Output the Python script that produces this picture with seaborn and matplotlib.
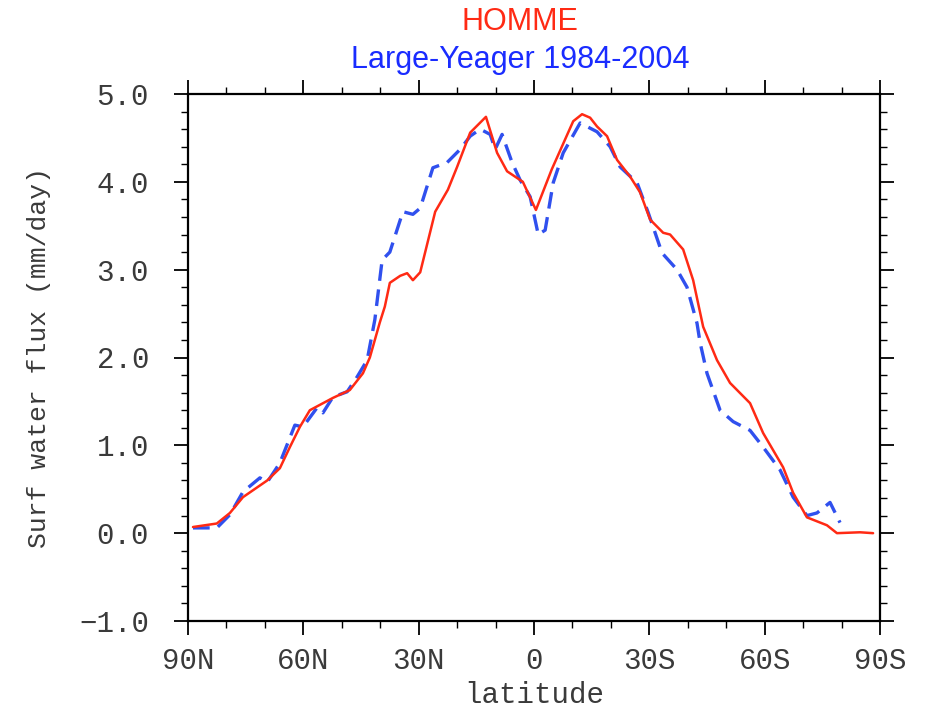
import matplotlib
matplotlib.use("Agg")
import matplotlib.pyplot as plt
from matplotlib.ticker import MultipleLocator
import seaborn as sns
import pandas as pd

# HOMME (red solid): latitude (+N / -S), surface water flux mm/day
homme_lat = [88.7, 82.5, 79.1, 75.7, 69.4, 66.1, 63.5, 60.9, 58.3, 52.3, 47.9, 44.5,
             42.7, 40.1, 38.8, 37.5, 34.8, 33.0, 31.5, 29.6, 25.7, 22.4, 20.0, 16.6,
             12.5, 9.6, 7.0, 2.9, -0.5, -4.6, -10.2, -12.5, -14.6, -16.4, -19.0, -21.6,
             -25.0, -27.6, -30.2, -33.6, -35.4, -38.8, -41.4, -44.0, -47.6, -51.0, -56.2,
             -59.6, -64.8, -67.4, -71.0, -76.2, -78.8, -84.8, -88.2]
homme_val = [0.07, 0.11, 0.23, 0.41, 0.60, 0.74, 0.98, 1.21, 1.40, 1.54, 1.63, 1.82,
             2.00, 2.40, 2.58, 2.85, 2.93, 2.96, 2.88, 2.97, 3.66, 3.91, 4.17, 4.56,
             4.74, 4.33, 4.12, 4.00, 3.68, 4.14, 4.69, 4.77, 4.73, 4.63, 4.52, 4.25,
             4.06, 3.88, 3.57, 3.42, 3.40, 3.23, 2.88, 2.35, 1.97, 1.71, 1.48,
             1.14, 0.75, 0.46, 0.18, 0.09, 0.00, 0.01, 0.00]

# Large-Yeager 1984-2004 (blue dashed)
ly_lat = [88.7, 82.5, 79.1, 75.7, 71.3, 69.4, 66.1, 62.2, 60.1, 56.4, 54.9, 52.3,
          48.6, 46.0, 43.4, 41.4, 39.5, 37.5, 34.1, 31.5, 29.6, 26.3, 22.6, 19.2,
          16.6, 14.0, 11.4, 10.1, 8.3, 5.7, 3.6, 1.0, -1.1, -2.9, -5.0, -7.6, -12.0,
          -16.4, -19.8, -22.4, -26.8, -29.7, -33.3, -37.2, -39.8, -42.4, -43.2, -45.0,
          -48.4, -51.8, -56.2, -59.6, -64.0, -67.4, -71.0, -73.6, -77.0, -79.6]
ly_val = [0.06, 0.06, 0.21, 0.47, 0.63, 0.58, 0.80, 1.23, 1.21, 1.43, 1.37, 1.55,
          1.61, 1.78, 1.97, 2.43, 3.11, 3.20, 3.66, 3.63, 3.70, 4.16, 4.22, 4.37,
          4.52, 4.60, 4.54, 4.37, 4.54, 4.22, 4.02, 3.83, 3.40, 3.45, 3.99, 4.33, 4.67,
          4.57, 4.40, 4.17, 3.99, 3.65, 3.19, 3.00, 2.80, 2.39, 2.17, 1.82,
          1.40, 1.27, 1.17, 0.98, 0.72, 0.41, 0.20, 0.23, 0.35, 0.12]

xtick_pos = [90, 60, 30, 0, -30, -60, -90]
xtick_lab = ["90N", "60N", "30N", "0", "30S", "60S", "90S"]
ytick_pos = [-1.0, 0.0, 1.0, 2.0, 3.0, 4.0, 5.0]
ytick_lab = ["\u22121.0", "0.0", "1.0", "2.0", "3.0", "4.0", "5.0"]

sns.set_style("ticks")
plt.rcParams["font.family"] = ["Liberation Mono", "DejaVu Sans Mono"]

fig = plt.figure(figsize=(9.28, 7.10), dpi=100)
ax = fig.add_axes([188 / 928, 1 - 621 / 710, (880 - 188) / 928, (621 - 94) / 710])

df_h = pd.DataFrame({"lat": homme_lat, "val": homme_val})
df_l = pd.DataFrame({"lat": ly_lat, "val": ly_val})

sns.lineplot(data=df_l, x="lat", y="val", ax=ax, color="#3050ee", lw=2.4,
             linestyle=(0, (5, 2.6)), sort=False, estimator=None)
sns.lineplot(data=df_h, x="lat", y="val", ax=ax, color="#ff2a14", lw=1.8,
             sort=False, estimator=None)

ax.set_xlim(90, -90)
ax.set_ylim(-1.0, 5.0)
ax.set_xticks(xtick_pos)
ax.set_xticklabels(xtick_lab)
ax.set_yticks(ytick_pos)
ax.set_yticklabels(ytick_lab)
ax.xaxis.set_minor_locator(MultipleLocator(10))
ax.yaxis.set_minor_locator(MultipleLocator(0.2))

ax.tick_params(which="both", direction="out", top=True, right=True,
               labeltop=False, labelright=False, colors="black")
ax.tick_params(which="major", length=10, width=1.3)
ax.tick_params(which="minor", length=5, width=1.0)
ax.tick_params(axis="x", which="major", pad=9, labelsize=21, labelcolor="#3a3a3a")
ax.tick_params(axis="y", which="major", pad=18, labelsize=21, labelcolor="#3a3a3a")

for s in ax.spines.values():
    s.set_visible(True)
    s.set_linewidth(1.6)
    s.set_color("black")

ax.set_xlabel("latitude", fontsize=21, color="#3a3a3a", labelpad=4)
ax.set_ylabel("Surf water flux (mm/day)", fontsize=19, color="#3a3a3a", labelpad=20)

fig.text(520 / 928, 1 - 22 / 710, "HOMME", color="#ff2a14", fontsize=22,
         ha="center", va="center", family=["Liberation Sans", "DejaVu Sans"])
fig.text(520 / 928, 1 - 60 / 710, "Large-Yeager 1984-2004", color="#1a2cff",
         fontsize=22, ha="center", va="center", family=["Liberation Sans", "DejaVu Sans"])

fig.savefig("out.png", dpi=100)
